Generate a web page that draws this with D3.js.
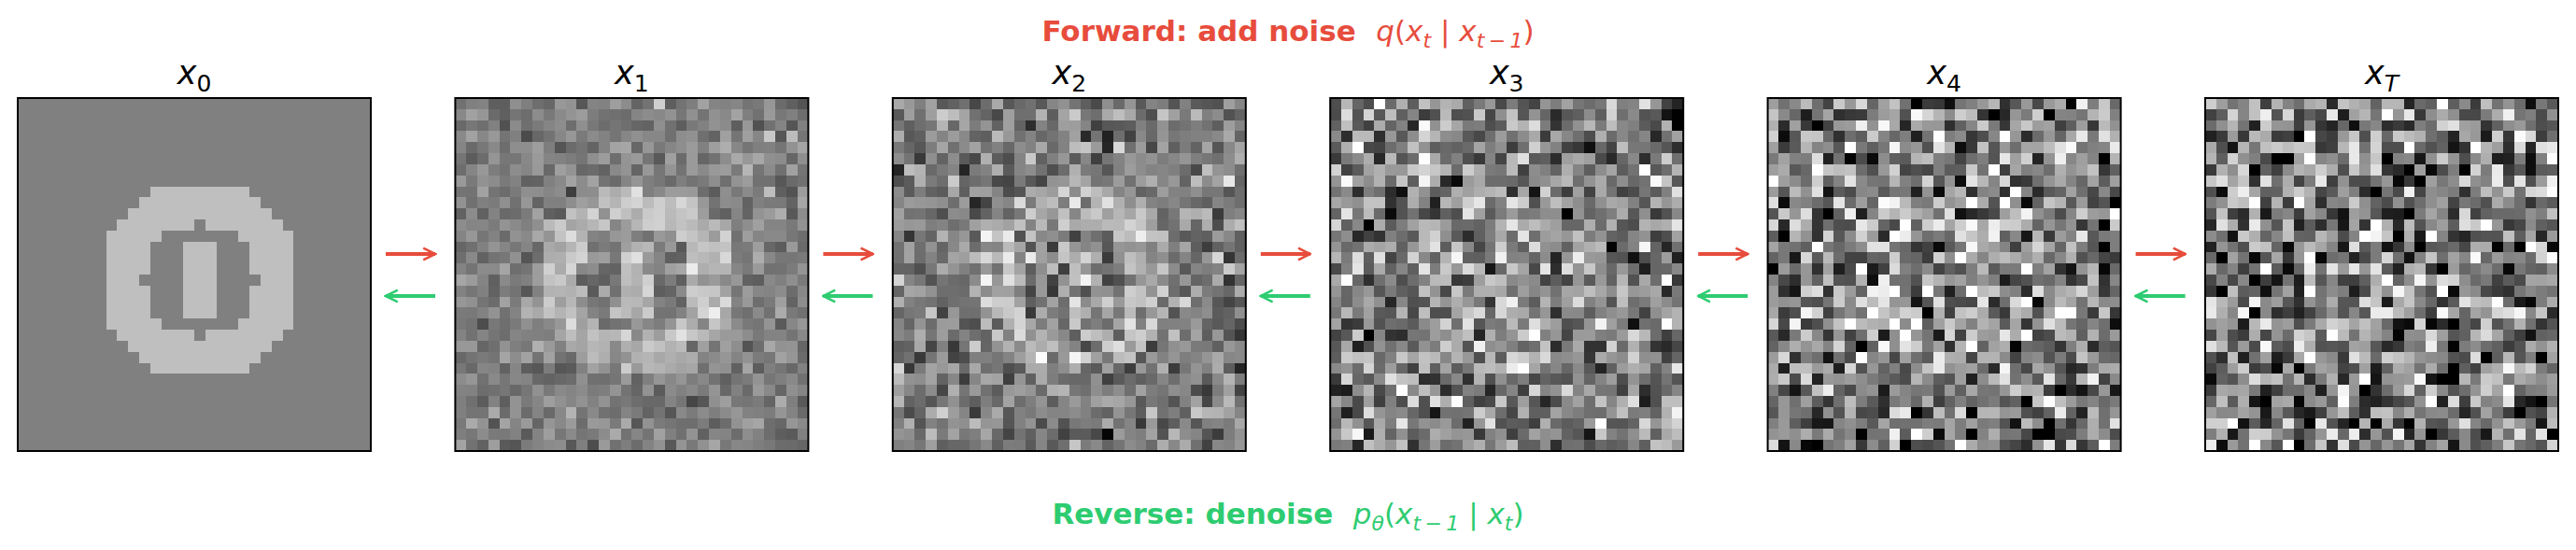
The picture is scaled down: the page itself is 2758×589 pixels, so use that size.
<!DOCTYPE html>
<html><head><meta charset="utf-8">
<script src="https://cdn.jsdelivr.net/npm/d3@7"></script>
<style>body{margin:0;background:#fff}svg{display:block}</style></head>
<body><svg id="c" width="2758" height="589"></svg>
<script>
// ---- data ----
const panelLabels = [["x","0"],["x","1"],["x","2"],["x","3"],["x","4"],["x","T"]];
const gridSize = 32;
// x0 image: light rows [row, startCol, endCol] of the ring (value 0.5, background 0)
const ringRows = [[8,12,20],[9,11,21],[10,10,22],[11,9,23],[12,8,24],[13,8,24],[14,8,24],[15,8,24],[16,8,24],[17,8,24],[18,8,24],[19,8,24],[20,8,24],[21,9,23],[22,10,22],[23,11,21],[24,12,20]];
const holeRows = [[11,16,16],[12,13,19],[13,12,20],[14,12,20],[15,12,20],[16,11,21],[17,12,20],[18,12,20],[19,12,20],[20,13,19],[21,16,16]];
const barRows = [[13,15,17],[14,15,17],[15,15,17],[16,15,17],[17,15,17],[18,15,17],[19,15,17]];
const ringValue = 0.5;
// per-step signal / noise weights of the forward process
const signalScale = [1, 0.85, 0.7, 0.5, 0.25, 0];
const noiseScale  = [0, 0.17, 0.28, 0.4, 0.52, 0.58];
const forwardTitle = "Forward: add noise";
const reverseTitle = "Reverse: denoise";

// ---- build x0 ----
const x0 = Array.from({length:gridSize},()=>Array(gridSize).fill(0));
ringRows.forEach(([r,a,b])=>{for(let c=a;c<=b;c++)x0[r][c]=ringValue;});
holeRows.forEach(([r,a,b])=>{for(let c=a;c<=b;c++)x0[r][c]=0;});
barRows.forEach(([r,a,b])=>{for(let c=a;c<=b;c++)x0[r][c]=ringValue;});
const normal = d3.randomNormal.source(d3.randomLcg(0.42))(0,1);
const images = signalScale.map((s,k)=>x0.map(row=>row.map(v=>s*v+noiseScale[k]*normal())));

// ---- draw ----
const svg = d3.select("#c");
const panelX = d3.scalePoint().domain(d3.range(6)).range([19,2361]);
const size = 378, panelTop = 105;
const cell = d3.scaleBand().domain(d3.range(gridSize)).range([0,size]);
const gray = d3.scaleLinear().domain([-1,1]).range([0,255]).clamp(true);

images.forEach((img,k)=>{
  const g = svg.append("g").attr("transform",`translate(${panelX(k)},${panelTop})`);
  const cells = [];
  img.forEach((row,r)=>row.forEach((v,c)=>cells.push({r,c,v})));
  g.selectAll("rect.px").data(cells).join("rect")
    .attr("x",d=>cell(d.c)).attr("y",d=>cell(d.r))
    .attr("width",cell.bandwidth()+0.5).attr("height",cell.bandwidth()+0.5)
    .attr("shape-rendering","crispEdges")
    .attr("fill",d=>{const q=Math.round(gray(d.v));return `rgb(${q},${q},${q})`;});
  g.append("rect").attr("width",size).attr("height",size).attr("fill","none").attr("stroke","#000").attr("stroke-width",2);
  const t = svg.append("text").attr("x",panelX(k)+size/2).attr("y",90).attr("text-anchor","middle")
    .attr("font-family","DejaVu Sans").attr("font-size",35);
  t.append("tspan").attr("font-style","italic").text(panelLabels[k][0]);
  t.append("tspan").attr("font-size",25).attr("dy",8).attr("font-style",panelLabels[k][1]==="T"?"italic":"normal").text(panelLabels[k][1]);
});

const defs = svg.append("defs");
[["r","#e74c3c"],["g","#2ecc71"]].forEach(([id,col])=>{
  defs.append("marker").attr("id","m"+id).attr("viewBox","0 0 10 10").attr("refX",9).attr("refY",5)
   .attr("markerWidth",4).attr("markerHeight",4).attr("orient","auto-start-reverse")
   .append("path").attr("d","M1,1 L9,5 L1,9").attr("fill","none").attr("stroke",col).attr("stroke-width",1.6);
});
d3.range(5).forEach(k=>{
  const x1 = panelX(k)+size+16, x2 = panelX(k)+size+69;
  svg.append("line").attr("x1",x1).attr("x2",x2).attr("y1",272).attr("y2",272)
    .attr("stroke","#e74c3c").attr("stroke-width",4).attr("marker-end","url(#mr)");
  svg.append("line").attr("x1",x2).attr("x2",x1).attr("y1",317).attr("y2",317)
    .attr("stroke","#2ecc71").attr("stroke-width",4).attr("marker-end","url(#mg)");
});

function mathTitle(y,col,label,parts){
  const t = svg.append("text").attr("x",1379).attr("y",y).attr("text-anchor","middle")
    .attr("font-family","DejaVu Sans").attr("font-size",31).attr("fill",col);
  t.append("tspan").attr("font-weight","bold").text(label+"\u00a0\u00a0");
  parts.forEach(([s,style,dy,fs])=>{
    t.append("tspan").attr("font-style",style).attr("dy",dy).attr("font-size",fs).text(s);
  });
}
mathTitle(44,"#e74c3c",forwardTitle,[["q","italic",0,31],["(","normal",0,31],["x","italic",0,31],["t","italic",7,22],["\u00a0|\u00a0","normal",-7,31],["x","italic",0,31],["t\u2009−\u20091","italic",7,22],[")","normal",-7,31]]);
mathTitle(561,"#2ecc71",reverseTitle,[["p","italic",0,31],["θ","italic",7,22],["(","normal",-7,31],["x","italic",0,31],["t\u2009−\u20091","italic",7,22],["\u00a0|\u00a0","normal",-7,31],["x","italic",0,31],["t","italic",7,22],[")","normal",-7,31]]);
</script></body></html>
